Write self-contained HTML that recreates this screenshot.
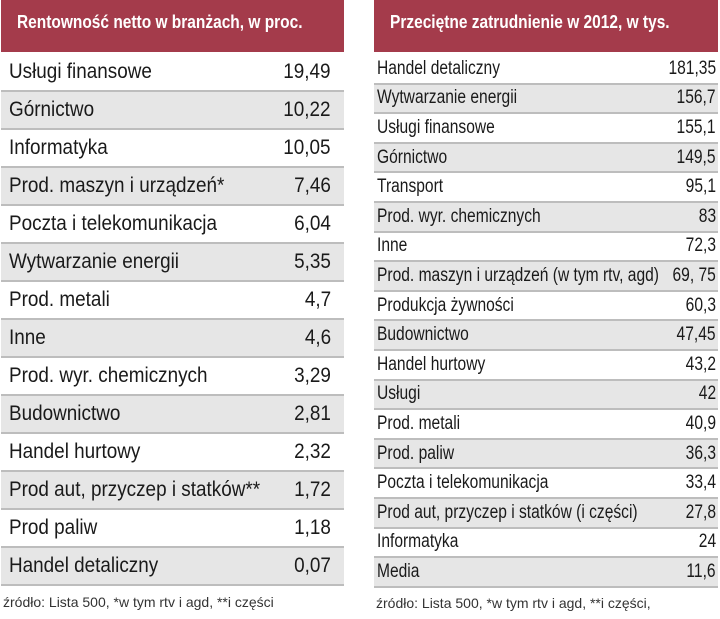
<!DOCTYPE html>
<html><head><meta charset="utf-8">
<style>
body{margin:0;width:720px;height:619px;background:#fff;position:relative;overflow:hidden;font-family:"Liberation Sans",sans-serif;color:#1a1a1a}
.hdr{position:absolute;top:0;height:52px;background:#a43b4b;color:#fff;font-weight:bold;font-size:18px;box-sizing:border-box;padding-left:16px;line-height:44px;white-space:nowrap}
.hdr span{display:inline-block;transform:scaleX(0.86);transform-origin:left center}
.row{position:absolute;box-sizing:border-box;border-bottom:2px solid #bdbdbd;white-space:nowrap;overflow:hidden}
.row.g{background:#e6e6e6}
.row span{position:absolute;top:50%}
.note{position:absolute;font-size:14px;color:#333;white-space:nowrap}
</style></head><body>
<div class="hdr" style="left:1px;width:343px"><span>Rentowność netto w branżach, w proc.</span></div>
<div class="hdr" style="left:374px;width:344px"><span>Przeciętne zatrudnienie w 2012, w tys.</span></div>
<div id="left"></div>
<div id="right"></div>
<div class="note" style="left:3px;top:594px">źródło: Lista 500, *w tym rtv i agd, **i części</div>
<div class="note" style="left:376px;top:595px">źródło: Lista 500, *w tym rtv i agd, **i części,</div>
<script>
const leftLabels=["Usługi finansowe","Górnictwo","Informatyka","Prod. maszyn i urządzeń*","Poczta i telekomunikacja","Wytwarzanie energii","Prod. metali","Inne","Prod. wyr. chemicznych","Budownictwo","Handel hurtowy","Prod aut, przyczep i statków**","Prod paliw","Handel detaliczny"];
const leftValues=["19,49","10,22","10,05","7,46","6,04","5,35","4,7","4,6","3,29","2,81","2,32","1,72","1,18","0,07"];
const rightLabels=["Handel detaliczny","Wytwarzanie energii","Usługi finansowe","Górnictwo","Transport","Prod. wyr. chemicznych","Inne","Prod. maszyn i urządzeń (w tym rtv, agd)","Produkcja żywności","Budownictwo","Handel hurtowy","Usługi","Prod. metali","Prod. paliw","Poczta i telekomunikacja","Prod aut, przyczep i statków (i części)","Informatyka","Media"];
const rightValues=["181,35","156,7","155,1","149,5","95,1","83","72,3","69, 75","60,3","47,45","43,2","42","40,9","36,3","33,4","27,8","24","11,6"];
function build(container,labels,values,x,w,top,pitch,fs,sx,padL,padR){
  labels.forEach((l,i)=>{
    const r=document.createElement('div');
    r.className='row'+(i%2?' g':'');
    
    
    r.style.cssText=`left:${x}px;width:${w}px;top:${top+i*pitch}px;height:${pitch}px;font-size:${fs}px`;
    const a=document.createElement('span');a.textContent=l;
    
    
    a.style.left=padL+'px';
    a.style.transform=`translateY(-50%) scaleX(${sx})`;a.style.transformOrigin='left center';
    const b=document.createElement('span');b.textContent=values[i];
    
    
    b.style.right=padR+'px';
    b.style.transform=`translateY(-50%) scaleX(${sx})`;b.style.transformOrigin='right center';
    r.appendChild(a);r.appendChild(b);container.appendChild(r);
  });
}
build(document.getElementById('left'),leftLabels,leftValues,1,343,54,38,21,0.9,8,13);
build(document.getElementById('right'),rightLabels,rightValues,374,344,55,29.6,19,0.82,3,2);
</script>
</body></html>
